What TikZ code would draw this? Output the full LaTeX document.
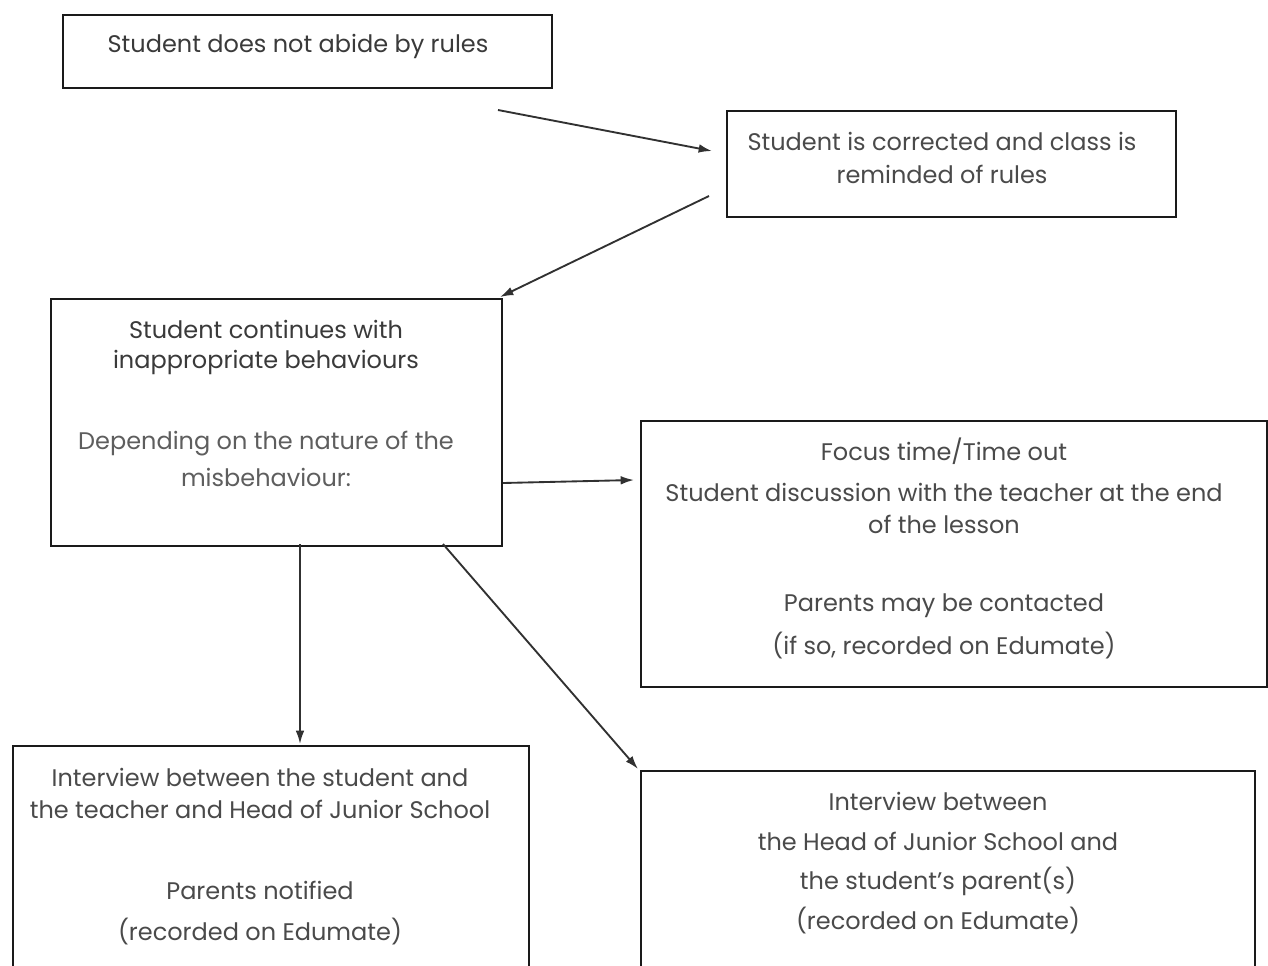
\documentclass[tikz,border=0pt]{standalone}
\usepackage{fontspec}
\setmainfont{Poppins}
\usetikzlibrary{arrows.meta}
\definecolor{txtdark}{HTML}{3A3A3A}
\definecolor{txtmid}{HTML}{4A4A4A}
\definecolor{txtlight}{HTML}{5E5E5E}
\definecolor{linecol}{HTML}{1A1A1A}
\tikzset{
  box/.style={draw=linecol, line width=1.4pt, inner sep=0pt},
  txt/.style={inner sep=0pt, text=txtmid, font=\fontsize{18}{21}\selectfont},
  conn/.style={draw=linecol!90, line width=1.4pt, -{Latex[length=10pt,width=6.5pt]}},
}
\begin{document}
\begin{tikzpicture}[x=0.75pt,y=-0.75pt]
\useasboundingbox[fill=white] (0,0) rectangle (1268,965);
\clip (0,0) rectangle (1268,965);
% boxes
\node[box, minimum width=489*0.75pt, minimum height=73*0.75pt, anchor=north west] (b1) at (62,14) {};
\node[box, minimum width=449*0.75pt, minimum height=106*0.75pt, anchor=north west] (b2) at (726,110) {};
\node[box, minimum width=451*0.75pt, minimum height=247*0.75pt, anchor=north west] (b3) at (50,298) {};
\node[box, minimum width=626*0.75pt, minimum height=266*0.75pt, anchor=north west] (b4) at (640,420) {};
\node[box, minimum width=516*0.75pt, minimum height=300*0.75pt, anchor=north west] (b5) at (12,745) {};
\node[box, minimum width=614*0.75pt, minimum height=300*0.75pt, anchor=north west] (b6) at (640,770) {};
% texts
\node[txt, text=txtdark] (t1) at (298,46) {Student does not abide by rules};
\node[txt] (t2a) at (942,141) {Student is corrected and class is};
\node[txt] (t2b) at (942,174) {reminded of rules};
\node[txt, text=txtdark] (t3a) at (266,329) {Student continues with};
\node[txt, text=txtdark] (t3b) at (266,362) {inappropriate behaviours};
\node[txt, text=txtlight] (t3c) at (266,444) {Depending on the nature of the};
\node[txt, text=txtlight] (t3d) at (266,477) {misbehaviour:};
\node[txt] (t4a) at (944,451) {Focus time/Time out};
\node[txt] (t4b) at (944,492) {Student discussion with the teacher at the end};
\node[txt] (t4c) at (944,524) {of the lesson};
\node[txt] (t4d) at (944,606) {Parents may be contacted};
\node[txt] (t4e) at (944,646) {(if so, recorded on Edumate)};
\node[txt] (t5a) at (260,777) {Interview between the student and};
\node[txt] (t5b) at (260,809) {the teacher and Head of Junior School};
\node[txt] (t5c) at (260,890) {Parents notified};
\node[txt] (t5d) at (260,932) {(recorded on Edumate)};
\node[txt] (t6a) at (938,801) {Interview between};
\node[txt] (t6b) at (938,841) {the Head of Junior School and};
\node[txt] (t6c) at (938,881) {the student’s parent(s)};
\node[txt] (t6d) at (938,921) {(recorded on Edumate)};
% connector ends
\coordinate (a1s) at (498,110);
\coordinate (a1e) at (712,151);
\coordinate (a2s) at (709,196);
\coordinate (a2e) at (500,297);
\coordinate (a3s) at (503,483);
\coordinate (a3e) at (634,480);
\coordinate (a4s) at (300,544);
\coordinate (a4e) at (300,744);
\coordinate (a5s) at (443,544);
\coordinate (a5e) at (638,769);
\draw[conn] (a1s) -- (a1e);
\draw[conn] (a2s) -- (a2e);
\draw[conn] (a3s) -- (a3e);
\draw[conn] (a4s) -- (a4e);
\draw[conn] (a5s) -- (a5e);
\end{tikzpicture}
\end{document}
